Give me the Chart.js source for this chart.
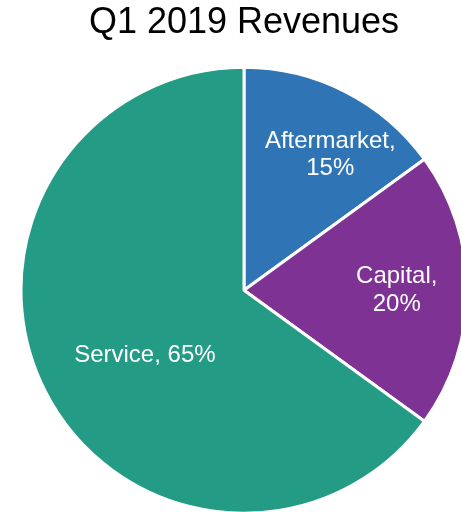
<!DOCTYPE html>
<html>
<head>
<meta charset="utf-8">
<script src="https://cdn.jsdelivr.net/npm/chart.js@4/dist/chart.umd.min.js"></script>
<style>
  html, body { margin: 0; padding: 0; background: #ffffff; overflow: hidden; }
  #wrap { position: absolute; left: 0; top: 0; width: 488px; height: 515px; }
</style>
</head>
<body>
<div id="wrap"><canvas id="chart" width="488" height="515"></canvas></div>
<script>
// Revenue split for the quarter
const chartTitle = 'Q1 2019 Revenues';
const categories = ['Aftermarket', 'Capital', 'Service'];
const shares = [15, 20, 65];
const sliceColors = ['#2F75B5', '#7E3293', '#249B85'];

// Where each label sits: fraction of the radius and an angle nudge (degrees) from the slice middle
const labelRadius = [0.72, 0.685, 0.533];
const labelAngleNudge = [5.5, 0, -6.5];
const labelLines = [
  (c, v) => [c + ',', v + '%'],
  (c, v) => [c + ',', v + '%'],
  (c, v) => [c + ', ' + v + '%']
];

const sliceLabels = {
  id: 'sliceLabels',
  afterDatasetsDraw(chart) {
    const ctx = chart.ctx;
    const meta = chart.getDatasetMeta(0);
    const ds = chart.data.datasets[0];
    ctx.save();
    ctx.fillStyle = '#ffffff';
    ctx.font = '24px "Liberation Sans", Arial, sans-serif';
    ctx.textAlign = 'center';
    ctx.textBaseline = 'middle';
    meta.data.forEach((arc, i) => {
      const p = arc.getProps(['x', 'y', 'startAngle', 'endAngle', 'outerRadius'], true);
      const mid = (p.startAngle + p.endAngle) / 2 + labelAngleNudge[i] * Math.PI / 180;
      const r = p.outerRadius * labelRadius[i];
      const cx = p.x + Math.cos(mid) * r;
      const cy = p.y + Math.sin(mid) * r;
      const lines = labelLines[i](chart.data.labels[i], ds.data[i]);
      const lh = 27.5;
      const y0 = cy - (lines.length - 1) * lh / 2;
      lines.forEach((t, k) => ctx.fillText(t, cx, y0 + k * lh));
    });
    ctx.restore();
  }
};

new Chart(document.getElementById('chart'), {
  type: 'pie',
  data: {
    labels: categories,
    datasets: [{
      data: shares,
      backgroundColor: sliceColors,
      borderColor: '#ffffff',
      borderWidth: 3
    }]
  },
  options: {
    responsive: false,
    animation: false,
    layout: { padding: { left: 19.5, right: 19.5, top: 0, bottom: 0 } },
    plugins: {
      legend: { display: false },
      tooltip: { enabled: false },
      title: {
        display: true,
        text: chartTitle,
        color: '#000000',
        font: { family: '"Liberation Sans", Arial, sans-serif', size: 36, weight: 'normal', lineHeight: 1.2 },
        padding: { top: 1, bottom: 21.3 }
      }
    }
  },
  plugins: [sliceLabels]
});
</script>
</body>
</html>
